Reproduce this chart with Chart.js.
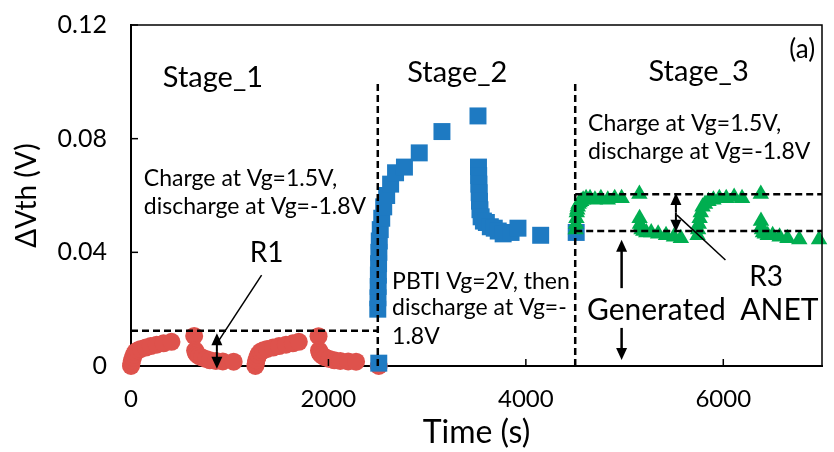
<!DOCTYPE html>
<html>
<head>
<meta charset="utf-8">
<script src="https://cdn.jsdelivr.net/npm/chart.js@4.4.0/dist/chart.umd.min.js"></script>
<style>
  html, body { margin: 0; padding: 0; background: #fff; }
</style>
</head>
<body>
<canvas id="dvthChart" width="834" height="452"></canvas>
<script>
// stage 1: charge at 1.5V / discharge at -1.8V (red circles)
const stage1Time = [0,5,10,20,30,45,70,100,150,200,260,330,410,640,650,655,660,670,690,720,760,800,860,930,1040,
  1260,1265,1270,1280,1290,1310,1340,1380,1440,1500,1570,1640,1700,1900,1905,1910,1915,1925,1945,1970,2010,2060,2120,2200,2280,2510];
const stage1Dvth = [0,0.001,0.002,0.003,0.004,0.005,0.0055,0.006,0.0065,0.007,0.0075,0.008,0.0085,0.0106,0.0055,0.005,0.0045,0.004,0.0035,0.003,0.0025,0.002,0.0018,0.0016,0.0015,
  0,0.001,0.002,0.003,0.004,0.005,0.0055,0.006,0.0065,0.007,0.0075,0.008,0.0085,0.0105,0.0055,0.005,0.0045,0.004,0.0035,0.003,0.0025,0.002,0.0018,0.0016,0.0015,0];

// stage 2: PBTI then discharge (blue squares)
const stage2Time = [2510,2500,2502,2504,2506,2508,2511,2515,2525,2540,2560,2590,2630,2680,2770,2920,3150,3515,
  3520,3522,3524,3527,3530,3535,3547,3570,3600,3640,3680,3720,3770,3850,3920,4150,4510];
const stage2Dvth = [0.001,0.02,0.024,0.028,0.032,0.036,0.040,0.044,0.048,0.052,0.056,0.060,0.064,0.068,0.070,0.075,0.0825,0.088,
  0.070,0.067,0.064,0.061,0.058,0.055,0.0525,0.051,0.0505,0.049,0.0485,0.0475,0.0465,0.047,0.0485,0.046,0.047];

// stage 3: charge / discharge again (green triangles)
const stage3Time = [4505,4508,4512,4516,4520,4526,4534,4545,4560,4580,4610,4650,4700,4760,4830,4900,4970,
  5150,5152,5156,5162,5172,5190,5220,5270,5340,5420,5500,5570,
  5740,5745,5752,5760,5772,5790,5815,5850,5900,5960,6030,6110,6190,
  6380,6382,6386,6392,6402,6420,6450,6500,6570,6650,6770,6970];
const stage3Dvth = [0.048,0.05,0.052,0.054,0.055,0.056,0.057,0.0575,0.058,0.0585,0.059,0.059,0.0585,0.059,0.0585,0.059,0.059,
  0.0605,0.052,0.05,0.049,0.048,0.0475,0.047,0.047,0.0465,0.046,0.0455,0.045,
  0.046,0.048,0.050,0.052,0.054,0.056,0.057,0.058,0.0585,0.059,0.059,0.0595,0.059,
  0.0605,0.051,0.049,0.048,0.047,0.0465,0.046,0.046,0.0455,0.045,0.0445,0.0445];

const xTickValues = [0,2000,4000,6000];
const yTickValues = [0,0.04,0.08,0.12];
const yTickLabels = ['0','0.04','0.08','0.12'];

const FONT = 'Lato';
const toPoints = (xs, ys) => xs.map((t, i) => ({x: t, y: ys[i]}));

// dashed guides, arrows and text labels on top of the points
const overlay = {
  id: 'overlay',
  afterDatasetsDraw(chart) {
    const {ctx, chartArea: a, scales: {x, y}} = chart;
    const px = t => x.getPixelForValue(t);
    const py = v => y.getPixelForValue(v);
    ctx.save();
    ctx.strokeStyle = '#000';
    ctx.fillStyle = '#000';

    // frame top/right
    ctx.lineWidth = 1.5;
    ctx.beginPath();
    ctx.moveTo(a.left, a.top); ctx.lineTo(a.right, a.top); ctx.lineTo(a.right, a.bottom);
    ctx.stroke();
    // inward tick marks
    xTickValues.forEach(v => { if (v > 0) { ctx.beginPath(); ctx.moveTo(px(v), a.bottom); ctx.lineTo(px(v), a.bottom - 7); ctx.stroke(); } });
    yTickValues.forEach(v => { if (v > 0) { ctx.beginPath(); ctx.moveTo(a.left, py(v)); ctx.lineTo(a.left + 7, py(v)); ctx.stroke(); } });

    // dashed lines
    const dash = (t1, v1, t2, v2) => { ctx.beginPath(); ctx.moveTo(px(t1), py(v1)); ctx.lineTo(px(t2), py(v2)); ctx.stroke(); };
    ctx.setLineDash([7, 4]);
    ctx.lineWidth = 2.5;
    dash(2500, 0, 2500, 0.1005);
    dash(4500, 0, 4500, 0.0995);
    dash(0, 0.0124, 2500, 0.0124);
    dash(4500, 0.0604, 7000, 0.0604);
    dash(4500, 0.0475, 7000, 0.0475);
    ctx.setLineDash([]);

    // arrows
    const arrow = (x1, y1, x2, y2) => {
      const ang = Math.atan2(y2 - y1, x2 - x1), hl = 12, hw = 5.5;
      ctx.beginPath(); ctx.moveTo(x1, y1); ctx.lineTo(x2 - hl * 0.7 * Math.cos(ang), y2 - hl * 0.7 * Math.sin(ang)); ctx.stroke();
      ctx.beginPath();
      ctx.moveTo(x2, y2);
      ctx.lineTo(x2 - hl * Math.cos(ang) + hw * Math.sin(ang), y2 - hl * Math.sin(ang) - hw * Math.cos(ang));
      ctx.lineTo(x2 - hl * Math.cos(ang) - hw * Math.sin(ang), y2 - hl * Math.sin(ang) + hw * Math.cos(ang));
      ctx.closePath(); ctx.fill();
    };
    const both = (t, v1, v2) => { const m = (py(v1) + py(v2)) / 2; arrow(px(t), m, px(t), py(v1)); arrow(px(t), m, px(t), py(v2)); };
    ctx.lineWidth = 2;
    both(870, 0.0115, -0.001);
    both(5520, 0.0609, 0.0472);
    ctx.lineWidth = 1.5;
    dash(1323, 0.032, 892, 0.0091);
    dash(6022, 0.0373, 5531, 0.0531);
    ctx.lineWidth = 2.5;
    arrow(px(4970), py(0.0274), px(4970), py(0.0444));
    arrow(px(4970), py(0.0134), px(4970), py(0.0021));

    // text
    ctx.textBaseline = 'middle';
    const text = (s, t, v, size, align) => { ctx.font = size + 'px ' + FONT; ctx.textAlign = align; ctx.fillText(s, px(t), py(v)); };
    text('Stage_1', 830, 0.1013, 29, 'center');
    text('Stage_2', 3305, 0.1031, 29, 'center');
    text('Stage_3', 5750, 0.1035, 29, 'center');
    text('(a)', 6800, 0.1112, 26, 'center');
    text('Charge at Vg=1.5V,', 130, 0.0661, 23, 'left');
    text('discharge at Vg=-1.8V', 130, 0.0560, 23, 'left');
    text('Charge at Vg=1.5V,', 4630, 0.0852, 23, 'left');
    text('discharge at Vg=-1.8V', 4630, 0.0753, 23, 'left');
    text('PBTI Vg=2V, then', 2645, 0.0296, 23, 'left');
    text('discharge at Vg=-', 2645, 0.0204, 23, 'left');
    text('1.8V', 2645, 0.0102, 23, 'left');
    text('R1', 1373, 0.0398, 28, 'center');
    text('R3', 6433, 0.0313, 28, 'center');
    text('Generated', 4619, 0.0197, 30, 'left');
    text('ANET', 6172, 0.0197, 30, 'left');
    ctx.restore();
  }
};

new Chart(document.getElementById('dvthChart'), {
  type: 'scatter',
  data: {
    datasets: [{
      label: 'Stage_1',
      data: toPoints(stage1Time, stage1Dvth),
      pointStyle: 'circle',
      pointRadius: 9,
      backgroundColor: 'rgb(222,82,76)',
      borderWidth: 0,
      order: 3,
      clip: false
    }, {
      label: 'Stage_2',
      data: toPoints(stage2Time, stage2Dvth),
      pointStyle: 'rect',
      pointRadius: 12,
      backgroundColor: 'rgb(30,122,194)',
      borderWidth: 0,
      order: 2,
      clip: false
    }, {
      label: 'Stage_3',
      data: toPoints(stage3Time, stage3Dvth),
      pointStyle: 'triangle',
      pointRadius: 9.5,
      backgroundColor: 'rgb(0,174,80)',
      borderWidth: 0,
      order: 1,
      clip: false
    }]
  },
  options: {
    responsive: false,
    animation: false,
    events: [],
    layout: { padding: { top: 25, right: 3, left: 0, bottom: 0 } },
    plugins: {
      legend: { display: false },
      tooltip: { enabled: false }
    },
    scales: {
      x: {
        type: 'linear',
        min: 0,
        max: 7000,
        afterBuildTicks: s => { s.ticks = xTickValues.map(v => ({value: v})); },
        afterFit: s => { s.height = 86; s.paddingLeft = 0; s.paddingRight = 0; },
        ticks: { callback: v => String(v), color: '#000', font: { family: FONT, size: 24, lineHeight: 1.2 }, padding: 19, maxRotation: 0 },
        grid: { display: false, drawTicks: false },
        border: { display: true, color: '#000', width: 2 },
        title: { display: true, text: 'Time (s)', color: '#000', font: { family: FONT, size: 32 }, padding: { top: 0, bottom: 0 } }
      },
      y: {
        type: 'linear',
        min: 0,
        max: 0.12,
        afterBuildTicks: s => { s.ticks = yTickValues.map(v => ({value: v})); },
        afterFit: s => { s.width = 131; s.paddingTop = 0; s.paddingBottom = 0; },
        ticks: { callback: (v, i) => yTickLabels[i], color: '#000', font: { family: FONT, size: 25, lineHeight: 1.2 }, padding: 24 },
        grid: { display: false, drawTicks: false },
        border: { display: true, color: '#000', width: 2 },
        title: { display: true, text: 'ΔVth (V)', color: '#000', font: { family: FONT, size: 28 }, padding: { top: 10, bottom: 0 } }
      }
    }
  },
  plugins: [overlay]
});
</script>
</body>
</html>
